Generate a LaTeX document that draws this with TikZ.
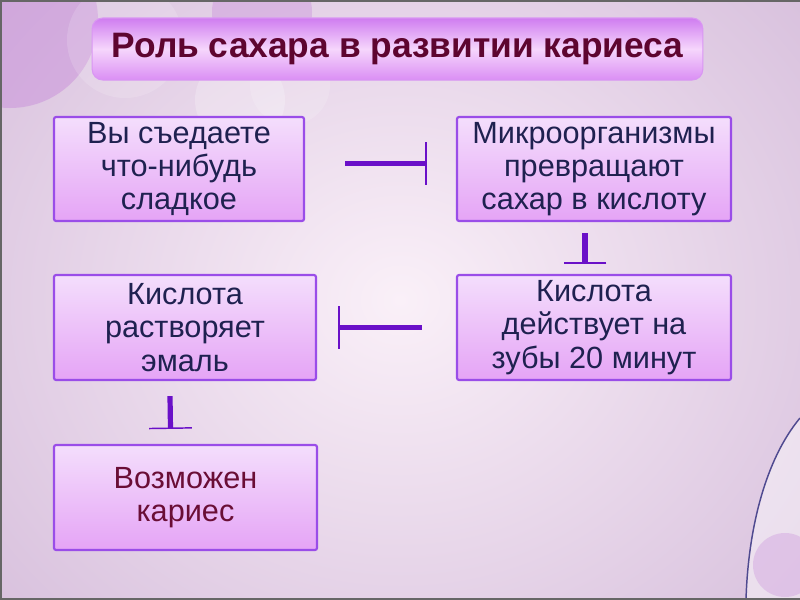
\documentclass[tikz,border=0pt]{standalone}
\usepackage{fontspec}
\setmainfont{Liberation Sans}
\usetikzlibrary{arrows.meta,shapes.misc}
\definecolor{bgedge}{HTML}{D9C2DE}
\definecolor{bgmid}{HTML}{FAF0F8}
\definecolor{boxtop}{HTML}{F4DEFC}
\definecolor{boxbot}{HTML}{E5A4F6}
\definecolor{boxline}{HTML}{9A4DE8}
\definecolor{titletop}{HTML}{CF7CF0}
\definecolor{titlemid}{HTML}{F6D6FC}
\definecolor{titlebot}{HTML}{DA8EF4}
\definecolor{titletext}{HTML}{5E0530}
\definecolor{navytext}{HTML}{1F2150}
\definecolor{maroontext}{HTML}{6A0E36}
\definecolor{conncol}{HTML}{6A10C8}
\definecolor{circA}{HTML}{C98FDB}
\definecolor{curvecol}{HTML}{4F4A90}
\tikzset{
  stepbox/.style={draw=boxline, line width=1.6pt, rounded corners=1.5pt,
    top color=boxtop, bottom color=boxbot,
    shading angle=0, align=center, inner sep=0pt, text=navytext,
    font=\fontsize{23pt}{25pt}\selectfont},
  titlebox/.style={draw=titletop!80!white, line width=0.8pt, rounded corners=8pt,
    top color=titletop, bottom color=titlebot, middle color=titlemid,
    align=center, inner sep=0pt, text=titletext,
    font=\fontsize{26.5pt}{30pt}\selectfont\bfseries},
  conn/.style={draw=conncol, line width=3.9pt,
    -{Bar[width=32pt, line width=1.1pt]}},
}
\begin{document}
\begin{tikzpicture}[x=0.75pt, y=-0.75pt]
  % background
  \useasboundingbox (0,0) rectangle (800,600);
  \shade[inner color=bgmid, outer color=bgedge] (-120,-160) rectangle (920,760);
  % decorative circles top left
  \fill[circA, opacity=0.5] (10,20) circle (88);
  \fill[white, opacity=0.15] (125,40) circle (58);
  \fill[circA, opacity=0.4] (262,12) circle (50);
  \fill[white, opacity=0.22] (240,100) circle (45);
  \fill[white, opacity=0.15] (290,85) circle (40);
  % bottom right curve
  \fill[white, opacity=0.45] (800,418) .. controls (765,460) and (748,530) .. (746,600) -- (800,600) -- cycle;
  \fill[circA, opacity=0.35] (785,565) circle (32);
  \draw[curvecol, line width=1.1pt] (800,418) .. controls (765,460) and (748,530) .. (746,600);
  % frame
  \draw[gray!80!black, line width=1.6pt] (800,1) -- (1,1) -- (1,599) -- (800,599);

  % title
  \node[titlebox, minimum width=458pt, minimum height=46.5pt] (title) at (397.5,49)
    {Роль сахара в развитии кариеса};

  % boxes
  \node[stepbox, minimum width=187.5pt, minimum height=78pt] (b1) at (179,169)
    {Вы съедаете\\что-нибудь\\сладкое};
  \node[stepbox, minimum width=205.5pt, minimum height=78pt] (b2) at (594,169)
    {Микроорганизмы\\превращают\\сахар в кислоту};
  \node[stepbox, minimum width=196.5pt, minimum height=78.75pt] (b3) at (185,327.5)
    {Кислота\\растворяет\\эмаль};
  \node[stepbox, minimum width=205.5pt, minimum height=78.75pt] (b4) at (594,327.5)
    {Кислота\\действует на\\зубы 20 минут};
  \node[stepbox, minimum width=197.25pt, minimum height=78.75pt, text=maroontext] (b5) at (185.5,497.5)
    {Возможен\\кариес};

  % connectors
  \coordinate (c1s) at ([xshift=30pt, yshift=4pt]b1.east);
  \coordinate (c1e) at ([xshift=-21.75pt, yshift=4pt]b2.west);
  \draw[conn] (c1s) -- (c1e);
  \coordinate (c2s) at ([xshift=-6.75pt, yshift=-8.25pt]b2.south);
  \coordinate (c2e) at ([xshift=-6.75pt, yshift=7.5pt]b4.north);
  \draw[conn] (c2s) -- (c2e);
  \coordinate (c3s) at ([xshift=-25.5pt]b4.west);
  \coordinate (c3e) at ([xshift=15.75pt]b3.east);
  \draw[conn] (c3s) -- (c3e);
  \coordinate (c4s) at ([xshift=-11.25pt, yshift=-11.25pt]b3.south);
  \coordinate (c4e) at ([xshift=-11.25pt, yshift=11.25pt]b5.north);
  \draw[conn] (c4s) -- (c4e);
\end{tikzpicture}
\end{document}
